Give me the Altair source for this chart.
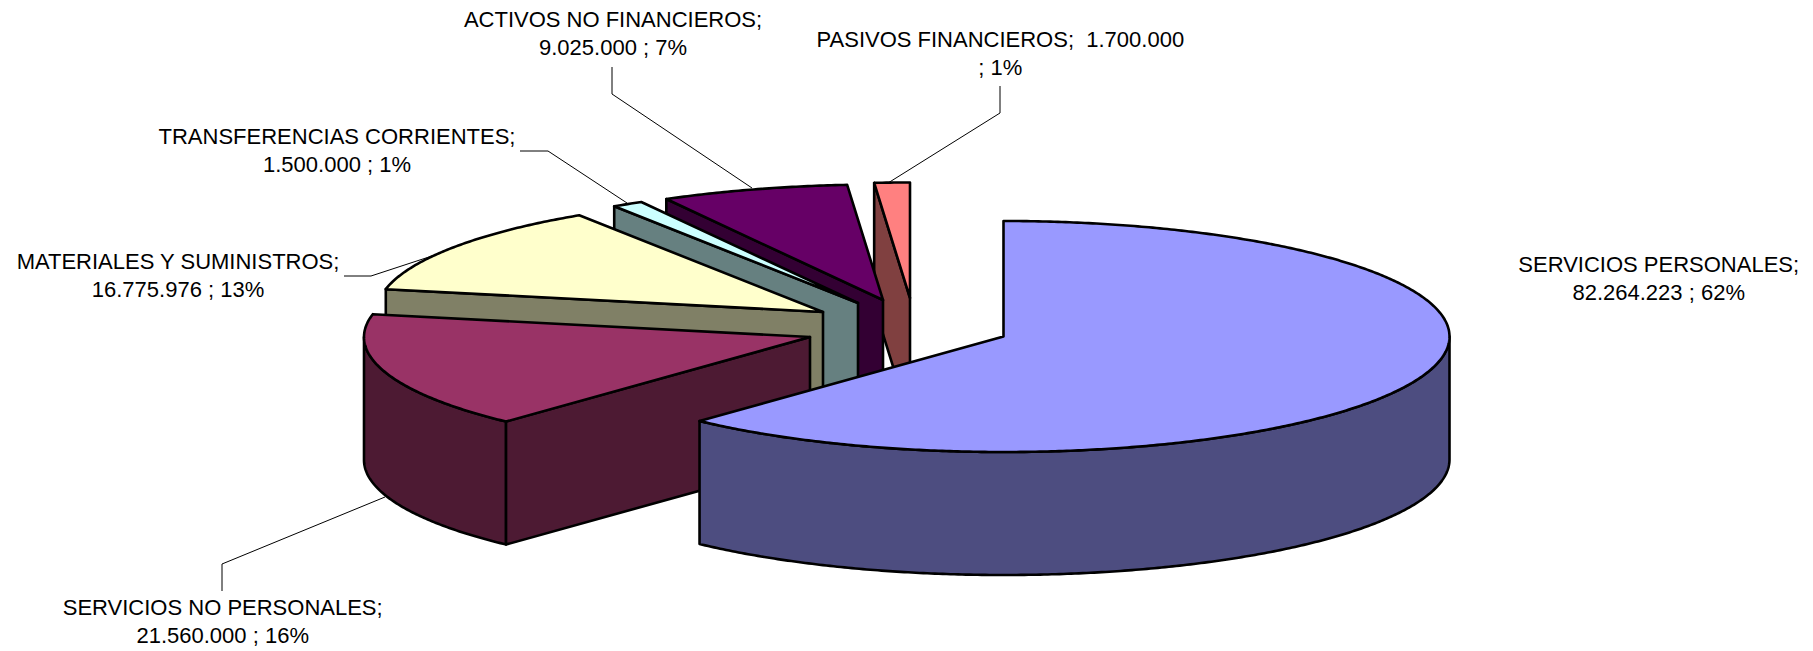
import math
import altair as alt

# --- data ---
names = ["SERVICIOS PERSONALES", "SERVICIOS NO PERSONALES", "MATERIALES Y SUMINISTROS",
         "TRANSFERENCIAS CORRIENTES", "ACTIVOS NO FINANCIEROS", "PASIVOS FINANCIEROS"]
values = [82264223, 21560000, 16775976, 1500000, 9025000, 1700000]
percents = [62, 16, 13, 1, 7, 1]
top_colors = ["#9999FF", "#993366", "#FFFFCC", "#CCFFFF", "#660066", "#FF8080"]
side_colors = ["#4D4D80", "#4D1A33", "#808066", "#668080", "#330033", "#804040"]

# --- layout (page pixels) ---
apex_x = [1003.5, 810, 823, 858, 883, 910]
apex_y = [336.5, 337, 312, 303, 300, 298]
RX, RY, DEPTH = 446, 115.5, 123
MARGIN = 8
label_x = [1658.7, 222.7, 178, 337, 613, 1000.3]
label_y1 = [271.5, 615.2, 268.5, 143.5, 26.5, 46.5]
LINE_STEP = 28
leaders = [
    None,
    [(222, 591), (222, 564), (385, 497)],
    [(344, 276), (371, 276), (435, 255)],
    [(520, 151), (548, 151), (627, 203)],
    [(612, 67), (612, 94), (752, 188)],
    [(1000, 86), (1000, 113), (888, 183)],
]


def fmt(v):
    return f"{v:,}".replace(",", ".")


def feature(coords, fill, kind="Polygon"):
    geometry = {"type": kind, "coordinates": [coords] if kind == "Polygon" else coords}
    return {"type": "Feature", "geometry": geometry, "properties": {"fill": fill}}


total = sum(values)
bounds, acc = [], 0.0
for v in values:
    bounds.append((acc / total * 360, (acc + v) / total * 360))
    acc += v


def arc(ax, ay, a0, a1, dy=0.0):
    n = max(2, int(abs(a1 - a0) * 2))
    pts = []
    for i in range(n + 1):
        t = math.radians(a0 + (a1 - a0) * i / n)
        pts.append([ax + RX * math.sin(t), ay - RY * math.cos(t) + dy])
    return pts


shapes = []
for i in reversed(range(len(values))):  # painter's order, back to front
    a0, a1 = bounds[i]
    ax, ay = apex_x[i], apex_y[i]
    # outer rim: only the front half of the ellipse shows
    r0, r1 = max(a0, 90), min(a1, 270)
    if r1 > r0:
        up = arc(ax, ay, r0, r1)
        down = arc(ax, ay, r0, r1, DEPTH)
        ring = up + down[::-1] + [up[0]]
        shapes.append(feature(ring, side_colors[i]))
    # cut wall on the leading edge
    if a0 > 0:
        p = arc(ax, ay, a0, a0)[0]
        ring = [[ax, ay], p, [p[0], p[1] + DEPTH], [ax, ay + DEPTH], [ax, ay]]
        shapes.append(feature(ring, side_colors[i]))
    # top face
    ring = [[ax, ay]] + arc(ax, ay, a0, a1) + [[ax, ay]]
    shapes.append(feature(ring, top_colors[i]))

lines = [feature([list(p) for p in l], "none", "LineString") for l in leaders if l]

rows = []
for i, n in enumerate(names):
    if i == 5:
        first = f"{n};\u00a0 {fmt(values[i])}"
        second = f"; {percents[i]}%"
    else:
        first = f"{n};"
        second = f"{fmt(values[i])} ; {percents[i]}%"
    rows.append({"t": first, "x": label_x[i] - MARGIN, "y": label_y1[i] - MARGIN})
    rows.append({"t": second, "x": label_x[i] - MARGIN, "y": label_y1[i] + LINE_STEP - MARGIN})

proj = dict(type="identity", scale=1, translate=[-MARGIN, -MARGIN])

slices = alt.Chart(alt.Data(values=shapes)).mark_geoshape(
    stroke="black", strokeWidth=2.6, strokeJoin="round"
).encode(fill=alt.Fill("properties.fill:N", scale=None)).project(**proj)

leader_layer = alt.Chart(alt.Data(values=lines)).mark_geoshape(
    filled=False, stroke="black", strokeWidth=1
).project(**proj)

text = alt.Chart(alt.Data(values=rows)).mark_text(
    font="Liberation Sans", fontSize=22, color="black", align="center", baseline="alphabetic"
).encode(
    x=alt.X("x:Q", scale=None, axis=None),
    y=alt.Y("y:Q", scale=None, axis=None),
    text="t:N",
)

chart = alt.layer(leader_layer, slices, text).properties(
    width=1797, height=643, padding=0,
    autosize=alt.AutoSizeParams(type="none"),
).configure_view(stroke=None)

chart.save("out.html", embed_options={"renderer": "svg", "actions": False})
